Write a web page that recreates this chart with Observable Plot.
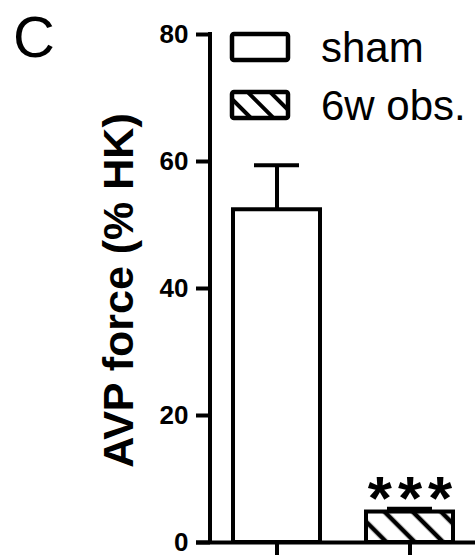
<!DOCTYPE html>
<html>
<head>
<meta charset="utf-8">
<script src="https://cdn.jsdelivr.net/npm/d3@7"></script>
<script src="https://cdn.jsdelivr.net/npm/@observablehq/plot@0.6"></script>
<style>
  body { margin: 0; background: white; }
  #wrap { position: relative; width: 475px; height: 558px; font-family: "Liberation Sans", Arial, sans-serif; }
  #wrap svg { display: block; }
  #overlay { position: absolute; left: 0; top: 0; pointer-events: none; }
</style>
</head>
<body>
<div id="wrap"></div>
<script>
// ---- data ----
const groups = ["sham", "6w obs."];
const means = [52.4, 4.8];
const sems = [7.0, 0.5];
const sigLabels = ["", "***"];
const yTicks = [0, 20, 40, 60, 80];
const yLabel = "AVP force (% HK)";
const panelLetter = "C";
const groupFills = ["white", "url(#hatch)"];

const data = groups.map((g, i) => ({
  group: g, mean: means[i], hi: means[i] + sems[i], sig: sigLabels[i]
}));

const plot = Plot.plot({
  width: 475, height: 558,
  marginLeft: 210, marginRight: 0, marginTop: 34, marginBottom: 16,
  style: { fontFamily: "Liberation Sans, Arial, sans-serif", background: "white", color: "black", overflow: "visible" },
  x: { domain: groups, paddingInner: 0.348, paddingOuter: 0.166, axis: null },
  y: { domain: [0, 80], axis: null },
  color: { domain: groups, range: groupFills },
  marks: [
    Plot.axisY({ ticks: yTicks, tickSize: 14, tickPadding: 8, fontSize: 26, fontWeight: "bold", strokeWidth: 4, label: null }),
    Plot.text([yLabel], { frameAnchor: "left", textAnchor: "middle", rotate: -90, dx: -78, dy: 2, lineAnchor: "bottom", fontSize: 43, fontWeight: "bold" }),
    Plot.axisX({ tickSize: 13, strokeWidth: 4, tickFormat: () => "", label: null }),
    Plot.ruleY([0], { strokeWidth: 4, insetLeft: -14 }),
    Plot.ruleX(data, { x: "group", y1: "mean", y2: "hi", strokeWidth: 4 }),
    Plot.barY(data, { x: "group", y: "mean", fill: "group", stroke: "black", strokeWidth: 4 }),
    Plot.tickY(data, { x: "group", y: "hi", strokeWidth: 4, insetLeft: 21, insetRight: 21 }),
    Plot.text(data, { x: "group", y: "hi", text: "sig", lineAnchor: "bottom", dy: 10, dx: 3, fontSize: 62, fontWeight: "bold" })
  ]
});

// hatch pattern
const svg = d3.select(plot);
const defs = svg.insert("defs", ":first-child");
const pat = defs.append("pattern").attr("id", "hatch").attr("patternUnits", "userSpaceOnUse")
  .attr("width", 20).attr("height", 20).attr("patternTransform", "rotate(-45)");
pat.append("rect").attr("width", 20).attr("height", 20).attr("fill", "white");
pat.append("line").attr("x1", 10).attr("x2", 10).attr("y1", 0).attr("y2", 20).attr("stroke", "black").attr("stroke-width", 4.5);

// y axis line from scales
const ys = plot.scale("y"), xs = plot.scale("x");
svg.append("line")
  .attr("x1", xs.range[0]).attr("x2", xs.range[0])
  .attr("y1", ys.apply(yTicks[yTicks.length - 1]) - 2).attr("y2", ys.apply(0) + 2)
  .attr("stroke", "black").attr("stroke-width", 4);

svg.selectAll("text").filter(function () { return d3.select(this).text() === "***"; })
  .attr("letter-spacing", 6);

document.getElementById("wrap").appendChild(plot);

// legend + panel letter overlay
const ov = d3.select("#wrap").append("svg").attr("id", "overlay").attr("width", 475).attr("height", 558);
const od = ov.append("defs");
const p2 = od.append("pattern").attr("id", "hatch2").attr("patternUnits", "userSpaceOnUse")
  .attr("width", 16).attr("height", 16).attr("patternTransform", "translate(232,92) rotate(-45)");
p2.append("rect").attr("width", 16).attr("height", 16).attr("fill", "white");
p2.append("line").attr("x1", 8).attr("x2", 8).attr("y1", 0).attr("y2", 16).attr("stroke", "black").attr("stroke-width", 4);
const legendFills = ["white", "url(#hatch2)"];

ov.append("text").attr("x", 13).attr("y", 57).attr("font-size", 58)
  .attr("font-family", "Liberation Sans, Arial, sans-serif").text(panelLetter);

const lg = ov.selectAll("g.lg").data(groups).join("g").attr("class", "lg")
  .attr("transform", (d, i) => `translate(232, ${34 + i * 58})`);
lg.append("rect").attr("width", 56).attr("height", 26).attr("rx", 2)
  .attr("fill", (d, i) => legendFills[i]).attr("stroke", "black").attr("stroke-width", 4.5);
lg.append("text").attr("x", 89).attr("y", 28).attr("font-size", 42)
  .attr("font-family", "Liberation Sans, Arial, sans-serif").text(d => d);
</script>
</body>
</html>
